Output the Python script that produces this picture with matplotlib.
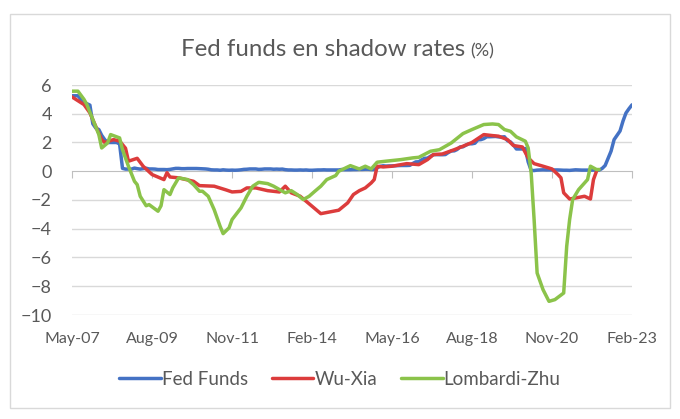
import numpy as np
import pandas as pd
import matplotlib
matplotlib.use("Agg")
import matplotlib.pyplot as plt
import matplotlib.dates as mdates
from matplotlib.patches import Rectangle

plt.rcParams['font.family'] = ['Lato', 'DejaVu Sans']

# fed funds, monthly from May-07
fed_start = "2007-05"
fed_funds = [
    5.25, 5.25, 5.25, 5.00, 4.75, 4.70, 4.60, 3.30,
    3.00, 2.90, 2.50, 2.20, 2.00, 2.00, 2.00, 2.00, 1.90, 0.20, 0.15, 0.15,
    0.15, 0.22, 0.18, 0.15, 0.18, 0.21, 0.16, 0.16, 0.15, 0.12, 0.12, 0.12,
    0.11, 0.13, 0.16, 0.20, 0.20, 0.18, 0.18, 0.19, 0.19, 0.19, 0.19, 0.18,
    0.17, 0.16, 0.14, 0.10, 0.09, 0.09, 0.07, 0.10, 0.08, 0.07, 0.08, 0.07,
    0.08, 0.10, 0.13, 0.14, 0.16, 0.16, 0.16, 0.13, 0.14, 0.16, 0.16, 0.16,
    0.14, 0.15, 0.14, 0.15, 0.11, 0.09, 0.09, 0.08, 0.08, 0.09, 0.08, 0.09,
    0.07, 0.07, 0.08, 0.09, 0.09, 0.10, 0.09, 0.09, 0.09, 0.09, 0.09, 0.12,
    0.11, 0.11, 0.11, 0.12, 0.12, 0.13, 0.13, 0.14, 0.14, 0.12, 0.12, 0.24,
    0.34, 0.38, 0.36, 0.37, 0.37, 0.38, 0.39, 0.40, 0.40, 0.40, 0.41, 0.54,
    0.65, 0.66, 0.79, 0.90, 0.91, 1.04, 1.15, 1.16, 1.15, 1.15, 1.16, 1.30,
    1.41, 1.42, 1.51, 1.69, 1.70, 1.82, 1.91, 1.91, 1.95, 2.19, 2.20, 2.27,
    2.40, 2.40, 2.41, 2.42, 2.39, 2.38, 2.40, 2.13, 2.04, 1.83, 1.55, 1.55,
    1.55, 1.58, 0.65, 0.05, 0.05, 0.08, 0.09, 0.10, 0.09, 0.09, 0.09, 0.09,
    0.09, 0.08, 0.07, 0.07, 0.06, 0.08, 0.10, 0.09, 0.08, 0.08, 0.08, 0.08,
    0.08, 0.08, 0.08, 0.20, 0.40, 0.90, 1.40, 2.20, 2.50, 2.80, 3.50, 4.05,
    4.35, 4.62,
]

wx_dates = [
    "2007-05", "2007-09", "2007-11", "2008-01", "2008-03", "2008-04", "2008-07",
    "2008-09", "2008-11", "2008-12", "2009-03", "2009-05", "2009-08", "2009-12",
    "2010-01", "2010-02", "2010-05", "2010-10", "2010-12", "2011-05", "2011-09",
    "2011-11", "2012-02", "2012-04", "2012-07", "2012-11", "2013-03", "2013-05",
    "2013-07", "2013-10", "2014-02", "2014-05", "2014-08", "2014-11", "2015-02",
    "2015-04", "2015-06", "2015-08", "2015-10", "2015-11", "2015-12", "2016-02",
    "2016-05", "2016-10", "2017-02", "2017-05", "2017-07", "2017-10", "2018-02",
    "2018-05", "2018-08", "2018-12", "2019-03", "2019-05", "2019-08", "2019-10",
    "2020-01", "2020-03", "2020-05", "2020-08", "2020-11", "2021-01", "2021-02",
    "2021-03", "2021-05", "2021-07", "2021-10", "2021-12", "2022-01", "2022-02",
]
wu_xia = [
    5.17, 4.64, 4.06, 3.10, 2.20, 2.00, 2.20,
    2.10, 1.60, 0.70, 0.90, 0.35, -0.23, -0.58,
    -0.10, -0.40, -0.46, -0.70, -1.00, -1.04, -1.30,
    -1.44, -1.40, -1.16, -1.16, -1.35, -1.44, -1.04,
    -1.50, -1.74, -2.44, -2.95, -2.83, -2.71, -2.20,
    -1.62, -1.35, -1.16, -0.81, -0.58, 0.35, 0.30,
    0.35, 0.53, 0.46, 0.81, 1.16, 1.20, 1.50,
    1.74, 2.00, 2.55, 2.48, 2.44, 2.20, 1.79,
    1.69, 0.93, 0.53, 0.35, 0.16, -0.23, -0.46,
    -1.50, -1.93, -1.86, -1.74, -1.93, -0.58, 0.00,
]

lz_dates = [
    "2007-05", "2007-07", "2007-09", "2007-10", "2007-12", "2008-02", "2008-03",
    "2008-05", "2008-06", "2008-09", "2008-10", "2008-12", "2009-02", "2009-03",
    "2009-04", "2009-06", "2009-07", "2009-10", "2009-11", "2009-12", "2010-02",
    "2010-03", "2010-05", "2010-08", "2010-10", "2010-12", "2011-01", "2011-03",
    "2011-05", "2011-07", "2011-08", "2011-10", "2011-11", "2012-02", "2012-04",
    "2012-06", "2012-08", "2012-11", "2013-01", "2013-04", "2013-05", "2013-07",
    "2013-09", "2013-11", "2014-01", "2014-03", "2014-05", "2014-07", "2014-10",
    "2014-11", "2015-03", "2015-06", "2015-08", "2015-10", "2015-12", "2016-03",
    "2016-08", "2016-12", "2017-02", "2017-06", "2017-09", "2018-01", "2018-05",
    "2018-08", "2018-12", "2019-03", "2019-05", "2019-07", "2019-09", "2019-11",
    "2020-02", "2020-03", "2020-04", "2020-05", "2020-06", "2020-08", "2020-10",
    "2020-12", "2021-03", "2021-04", "2021-05", "2021-06", "2021-08", "2021-11",
    "2021-12", "2022-02", "2022-03",
]
lombardi_zhu = [
    5.57, 5.57, 5.00, 4.64, 3.60, 2.55, 1.62,
    1.97, 2.55, 2.32, 1.50, 0.35, -0.70, -0.93,
    -1.74, -2.40, -2.32, -2.78, -2.40, -1.28, -1.62,
    -1.16, -0.46, -0.58, -0.93, -1.39, -1.39, -1.74,
    -2.67, -3.83, -4.34, -3.94, -3.36, -2.55, -1.74,
    -1.04, -0.77, -0.86, -1.04, -1.39, -1.50, -1.35,
    -1.62, -1.97, -1.74, -1.39, -1.04, -0.58, -0.30,
    0.00, 0.39, 0.16, 0.35, 0.16, 0.63, 0.70,
    0.81, 0.93, 0.97, 1.39, 1.50, 1.97, 2.62,
    2.90, 3.25, 3.29, 3.25, 2.90, 2.78, 2.39,
    2.09, 1.62, -0.12, -3.36, -7.08, -8.24, -9.05,
    -8.93, -8.47, -5.22, -3.36, -1.97, -1.28, -0.58,
    0.35, 0.12, 0.12,
]

tick_dates = ["2007-05", "2009-08", "2011-11", "2014-02",
              "2016-05", "2018-08", "2020-11", "2023-02"]
y_ticks = [6, 4, 2, 0, -2, -4, -6, -8, -10]

fed_x = pd.date_range(fed_start, periods=len(fed_funds), freq="MS")
wx_x = pd.to_datetime(wx_dates)
lz_x = pd.to_datetime(lz_dates)
ticks_x = pd.to_datetime(tick_dates)

text_col = "#595959"
fig = plt.figure(figsize=(6.8, 4.19), dpi=100)
fig.patches.append(Rectangle((10 / 680, 1 - 408 / 419), 660 / 680, 394 / 419,
                             transform=fig.transFigure, fill=False,
                             edgecolor="#D9D9D9", linewidth=1.0))

ax = fig.add_axes([72 / 680, 1 - 315 / 419, 560 / 680, 230 / 419])
ax.set_xlim(ticks_x[0], ticks_x[-1])
ax.set_ylim(-10, 6)

for y in y_ticks:
    if y != 0:
        ax.axhline(y, color="#D9D9D9", linewidth=1.0, zorder=0)

lw = 2.5
ax.plot(fed_x, fed_funds, color="#4472C4", linewidth=lw, label="Fed Funds",
        solid_joinstyle="round", solid_capstyle="round", zorder=3)
ax.plot(wx_x, wu_xia, color="#DC3C3C", linewidth=lw, label="Wu-Xia",
        solid_joinstyle="round", solid_capstyle="round", zorder=4)
ax.plot(lz_x, lombardi_zhu, color="#8BC34A", linewidth=lw, label="Lombardi-Zhu",
        solid_joinstyle="round", solid_capstyle="round", zorder=5)

for s in ["top", "right", "left"]:
    ax.spines[s].set_visible(False)
ax.spines["bottom"].set_position(("data", 0))
ax.spines["bottom"].set_color("#BFBFBF")
ax.spines["bottom"].set_zorder(1)
ax.set_xticks(ticks_x)
ax.tick_params(axis="x", direction="out", length=5, color="#BFBFBF",
               labelbottom=False)
ax.set_yticks(y_ticks)
ax.tick_params(axis="y", length=0, pad=14.5, labelsize=13, labelcolor=text_col)

sec = ax.secondary_xaxis(0)
sec.set_xticks(ticks_x)
sec.xaxis.set_major_formatter(mdates.DateFormatter("%b-%y"))
sec.tick_params(length=0, pad=12, labelsize=11.5, labelcolor=text_col)
sec.spines["bottom"].set_visible(False)

# title: main part, then a smaller "(%)" just after it
title = fig.text(181 / 680, 1 - 56 / 419, "Fed funds en shadow rates",
                 fontsize=17.3, color=text_col, ha="left", va="baseline")
fig.canvas.draw()
bb = title.get_window_extent(fig.canvas.get_renderer())
fig.text((bb.x1 + 5) / 680, 1 - 56 / 419, "(%)", fontsize=13,
         color=text_col, ha="left", va="baseline")

fig.legend(loc="center", bbox_to_anchor=(0.5, 1 - 379 / 419), ncol=3,
           frameon=False, fontsize=13.5, handlelength=2.2, handletextpad=0.05,
           columnspacing=1.3, labelcolor=text_col)

fig.savefig("out.png", dpi=100)
